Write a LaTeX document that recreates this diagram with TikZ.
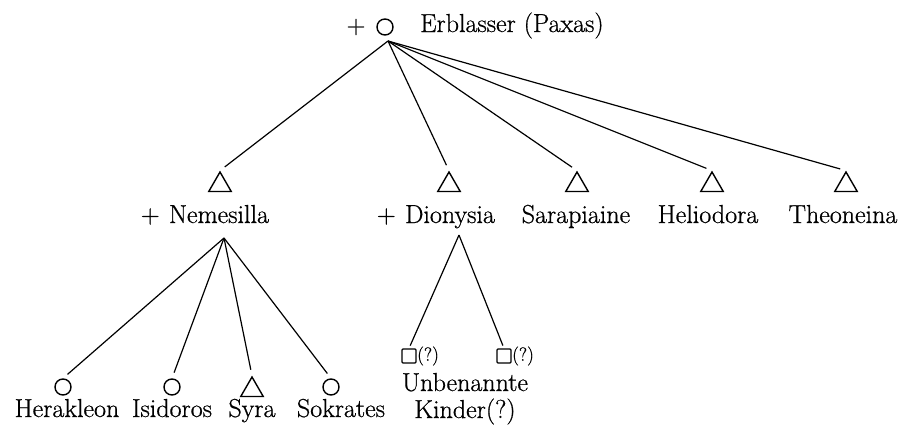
\documentclass[tikz,border=0pt]{standalone}
\usepackage{fontspec}
\setmainfont{Latin Modern Roman}[FakeBold=0.7]
\usetikzlibrary{shapes.geometric,calc}
\begin{document}
\begin{tikzpicture}[x=1pt,y=-1pt,
  lbl/.style={font=\fontsize{26}{30}\selectfont, inner sep=0pt},
  sml/.style={font=\fontsize{19}{21}\selectfont, inner sep=0pt},
  malesym/.style={draw, circle, minimum size=16pt, inner sep=0pt, line width=1.4pt},
  femsym/.style={draw, regular polygon, regular polygon sides=3, minimum size=26pt, inner sep=0pt, line width=1.4pt},
  unksym/.style={draw, rectangle, minimum size=14pt, inner sep=0pt, line width=1.3pt, rounded corners=1pt},
  link/.style={line width=1.2pt, shorten >=6pt}
]
\fill[white] (0,0) rectangle (903,426);
\useasboundingbox (0,0) rectangle (903,426);

% top
\node[malesym] (erb) at (385,27) {};
\node[lbl] (erbp) at (356,27) {+};
\node[lbl, anchor=base west] (erbt) at (420,32) {Erblasser (Paxas)};
\coordinate (j0) at (388,41);

% second row
\node[femsym] (nem) at (220,185) {};
\node[femsym] (dio) at (449,185) {};
\node[femsym] (sar) at (577,185) {};
\node[femsym] (hel) at (712,185) {};
\node[femsym] (the) at (846,185) {};

\node[lbl, anchor=base] (nemt) at (219,223) {Nemesilla};
\node[lbl, anchor=base east, xshift=-9pt] (nemp) at (nemt.base west) {+};
\node[lbl, anchor=base] (diot) at (450,223) {Dionysia};
\node[lbl, anchor=base east, xshift=-9pt] (diop) at (diot.base west) {+};
\node[lbl, anchor=base] (sart) at (576,223) {Sarapiaine};
\node[lbl, anchor=base] (helt) at (708,223) {Heliodora};
\node[lbl, anchor=base] (thet) at (843,223) {Theoneina};

\draw[link] (j0) -- (nem.north);
\draw[link] (j0) -- (dio.north);
\draw[link] (j0) -- (sar.north);
\draw[link] (j0) -- (hel.north);
\draw[link] (j0) -- (the.north);

% children of Nemesilla
\coordinate (nemj) at (224,238);
\node[malesym] (her) at (63,387) {};
\node[malesym] (isi) at (172,387) {};
\node[femsym] (syr) at (252,390) {};
\node[malesym] (sok) at (331,387) {};

\node[lbl, anchor=base] (hert) at (67,417) {Herakleon};
\node[lbl, anchor=base] (isit) at (172,417) {Isidoros};
\node[lbl, anchor=base] (syrt) at (252,417) {Syra};
\node[lbl, anchor=base] (sokt) at (341,417) {Sokrates};

\draw[link] (nemj) -- (her.north);
\draw[link] (nemj) -- (isi.north);
\draw[link] (nemj) -- (syr.north);
\draw[link] (nemj) -- (sok.north);

% children of Dionysia
\coordinate (dioj) at (459,235);
\node[unksym] (k1) at (409,356) {};
\node[unksym] (k2) at (504,356) {};
\node[sml, anchor=west] (q1) at (417,356) {(?)};
\node[sml, anchor=west] (q2) at (512,356) {(?)};
\node[lbl, anchor=base] (unb) at (465,391) {Unbenannte};
\node[lbl, anchor=base] (kin) at (465,418) {Kinder(?)};

\draw[link, shorten >=3pt] (dioj) -- (k1.north);
\draw[link, shorten >=3pt] (dioj) -- (k2.north);
\end{tikzpicture}
\end{document}
